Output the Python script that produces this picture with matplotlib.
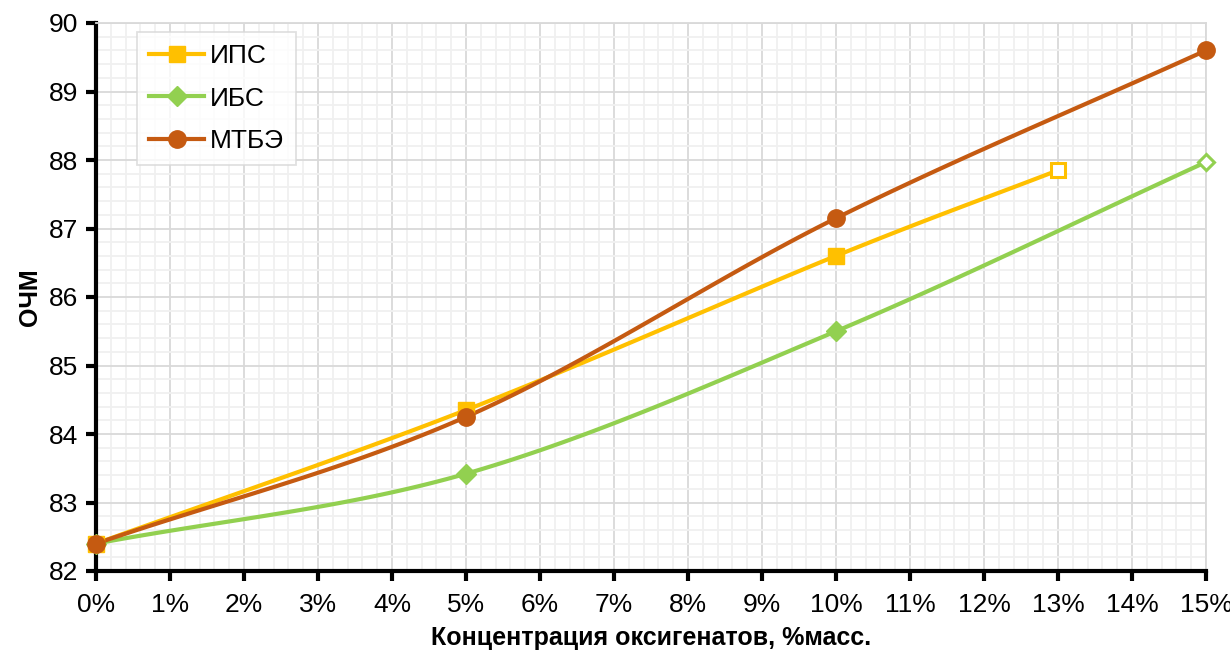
import numpy as np
import matplotlib.pyplot as plt
from matplotlib.ticker import MultipleLocator, FuncFormatter

# данные графика
ips_x = [0, 5, 10, 13]
ips_y = [82.4, 84.35, 86.6, 87.85]
ibs_x = [0, 5, 10, 15]
ibs_y = [82.4, 83.42, 85.5, 87.97]
mtbe_x = [0, 5, 10, 15]
mtbe_y = [82.4, 84.25, 87.15, 89.6]

names = ['ИПС', 'ИБС', 'МТБЭ']
colors = ['#FFC000', '#92D050', '#C55A11']
markers = ['s', 'D', 'o']

plt.rcParams['font.family'] = ['Liberation Sans', 'DejaVu Sans']


def smooth(x, y, n=40):
    # сглаживание как в Excel (Catmull-Rom)
    x = np.asarray(x, float)
    y = np.asarray(y, float)
    px = np.concatenate([[2 * x[0] - x[1]], x, [2 * x[-1] - x[-2]]])
    py = np.concatenate([[2 * y[0] - y[1]], y, [2 * y[-1] - y[-2]]])
    xs, ys = [], []
    t = np.linspace(0, 1, n)
    for i in range(1, len(px) - 2):
        for arr, out in ((px, xs), (py, ys)):
            p0, p1, p2, p3 = arr[i - 1:i + 3]
            out.extend(0.5 * ((2 * p1) + (-p0 + p2) * t + (2 * p0 - 5 * p1 + 4 * p2 - p3) * t ** 2
                              + (-p0 + 3 * p1 - 3 * p2 + p3) * t ** 3))
    return xs, ys


fig = plt.figure(figsize=(12.3, 6.55), dpi=100)
ax = fig.add_axes([96 / 1230, 1 - 571 / 655, 1110 / 1230, 548 / 655])

series = [(ips_x, ips_y), (ibs_x, ibs_y), (mtbe_x, mtbe_y)]
msizes = [12, 10, 12.5]
for (x, y), name, c, m, ms in zip(series, names, colors, markers, msizes):
    sx, sy = smooth(x, y)
    ax.plot(sx, sy, color=c, lw=3, zorder=3)
    # последняя точка у ИПС и ИБС — пустой маркер
    if name in ('ИПС', 'ИБС'):
        ax.plot(x[:-1], y[:-1], ls='none', marker=m, color=c, ms=ms, zorder=4, clip_on=False)
        ax.plot(x[-1], y[-1], ls='none', marker=m, mfc='white', mec=c, mew=2.2, ms=ms - 1.5,
                zorder=4, clip_on=False)
    else:
        ax.plot(x, y, ls='none', marker=m, color=c, ms=ms, zorder=4, clip_on=False)
    ax.plot([], [], color=c, lw=3, marker=m, ms=ms, label=name)

ax.set_xlim(0, 15)
ax.set_ylim(82, 90)
ax.xaxis.set_major_locator(MultipleLocator(1))
ax.xaxis.set_minor_locator(MultipleLocator(0.2))
ax.yaxis.set_major_locator(MultipleLocator(1))
ax.yaxis.set_minor_locator(MultipleLocator(0.2))
ax.xaxis.set_major_formatter(FuncFormatter(lambda v, p: '%d%%' % round(v)))
ax.grid(which='major', color='#D9D9D9', lw=1.3, zorder=0)
ax.grid(which='minor', color='#F0F0F0', lw=1.3, zorder=0)
ax.set_axisbelow(True)

for s in ('top', 'right'):
    ax.spines[s].set_color('#D9D9D9')
    ax.spines[s].set_linewidth(1.3)
for s in ('left', 'bottom'):
    ax.spines[s].set_color('black')
    ax.spines[s].set_linewidth(3)
ax.tick_params(which='major', length=7, width=3, labelsize=19, pad=6)
ax.tick_params(which='minor', length=0)
ax.tick_params(axis='x', pad=9)

ax.set_xlabel('Концентрация оксигенатов, %масс.', fontsize=18, fontweight='bold', labelpad=6)
ax.set_ylabel('ОЧМ', fontsize=18, fontweight='bold', labelpad=5)

leg = ax.legend(loc='upper left', bbox_to_anchor=(0.037, 0.983), fontsize=19, frameon=True,
                fancybox=False, edgecolor='#D9D9D9', handlelength=2.1, labelspacing=0.7,
                borderpad=0.45, handletextpad=0.2, borderaxespad=0)
leg.get_frame().set_linewidth(1.3)

plt.savefig('out.png', dpi=100)
